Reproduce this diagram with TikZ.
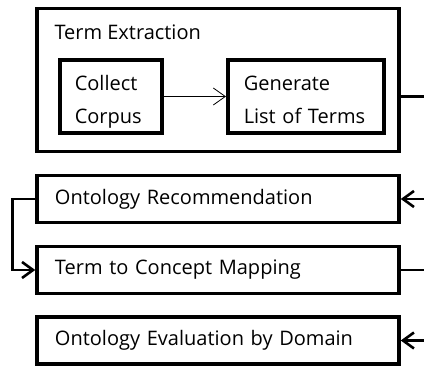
\documentclass[tikz,border=0pt]{standalone}
\usepackage{fontspec}
\setmainfont{Open Sans}
\usetikzlibrary{arrows.meta}

\tikzset{
  stage/.style={draw, line width=3.5pt, minimum width=362pt, minimum height=47pt,
    text width=326pt, inner xsep=18pt, align=left, font=\fontsize{20}{24}\selectfont},
  sub/.style={draw, line width=3.5pt, minimum height=73pt, align=left, anchor=west,
    text height=14pt, text depth=25pt, font=\fontsize{20}{32.5}\selectfont},
  link/.style={line width=2.6pt},
  tip/.style={line width=2.6pt, -{Straight Barb[length=11pt,width=16pt]}}
}

\begin{document}
\begin{tikzpicture}[x=1pt,y=-1pt]
\useasboundingbox (0,0) rectangle (424,366);

% le grand cadre et ses deux etapes
\node[draw, line width=3.5pt, minimum width=362pt, minimum height=143pt] (te) at (218,80) {};
\node[anchor=west, font=\fontsize{20}{24}\selectfont] (tetitle) at (51,32) {Term Extraction};
\node[sub, text width=72pt, inner xsep=15pt] (col) at (58,96.5) {Collect\\Corpus};
\node[sub, text width=124pt, inner xsep=16pt] (gen) at (226,96.5) {Generate\\List of Terms};
\draw[line width=0.8pt, -{Straight Barb[length=12pt,width=17pt]}] (col) -- (gen);

% les etapes suivantes
\node[stage] (rec) at (218,199) {Ontology Recommendation};
\node[stage] (map) at (218,270) {Term to Concept Mapping};
\node[stage] (eva) at (218,340.5) {Ontology Evaluation by Domain};

% les bouts qui sortent a droite
\coordinate (teout) at (424,96.5);
\coordinate (recin) at (424,199);
\coordinate (mapout) at (424,270);
\coordinate (evain) at (424,340.5);
\draw[link] (gen -| te.east) -- (teout);
\draw[link] (map.east) -- (mapout);
\draw[tip] (recin) -- (rec.east);
\draw[tip] (evain) -- (eva.east);

% la boucle a gauche
\draw[tip] (rec.west) -- +(-23,0) |- (map.west);
\end{tikzpicture}
\end{document}
